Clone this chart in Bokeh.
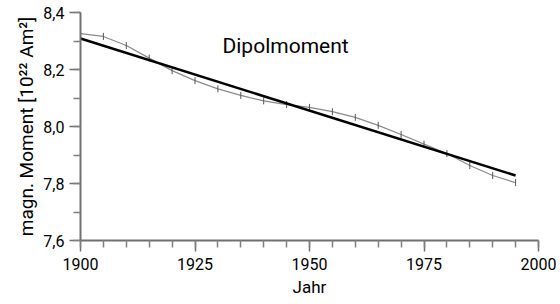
from bokeh.plotting import figure
from bokeh.models import Label, FixedTicker, CustomJSTickFormatter, Range1d
from bokeh.embed import file_html
from bokeh.resources import INLINE
import math

# data
years_obs = [1900, 1905, 1910, 1915, 1920, 1925, 1930, 1935, 1940, 1945, 1950,
             1955, 1960, 1965, 1970, 1975, 1980, 1985, 1990, 1995]
moment_obs = [8.326, 8.316, 8.284, 8.240, 8.196, 8.161, 8.132, 8.109, 8.090, 8.077, 8.067,
              8.052, 8.032, 8.004, 7.972, 7.938, 7.905, 7.863, 7.828, 7.803]
years_fit = [1900, 1995]
moment_fit = [8.309, 7.828]
x_ticks = [1900, 1925, 1950, 1975, 2000]
y_ticks = [7.6, 7.8, 8.0, 8.2, 8.4]
title_text = "Dipolmoment"
x_label = "Jahr"
y_label = "magn. Moment [10²² Am²]"

FONT = "Roboto"

p = figure(width=560, height=304, output_backend="svg", toolbar_location=None,
           x_range=Range1d(1900, 2000), y_range=Range1d(7.6, 8.4),
           min_border_left=80, min_border_right=22, min_border_top=12, min_border_bottom=64)
p.outline_line_color = None
p.grid.visible = False
p.background_fill_color = "white"
p.border_fill_color = "white"

p.line(years_obs, moment_obs, line_color="#8a8a8a", line_width=1.2)
p.scatter(years_obs, moment_obs, marker="dash", angle=math.pi / 2, size=7,
          line_color="#555555", line_width=1)
p.line(years_fit, moment_fit, line_color="black", line_width=2.5)

for ax in (p.xaxis[0], p.yaxis[0]):
    ax.axis_line_color = "#707070"
    ax.axis_line_width = 2
    ax.major_tick_line_color = "#707070"
    ax.minor_tick_line_color = "#808080"
    ax.major_tick_line_width = 1.5
    ax.minor_tick_line_width = 1.5
    ax.major_tick_in = 0
    ax.minor_tick_in = 0
    ax.major_label_text_font = FONT
    ax.major_label_text_font_size = "16px"
    ax.major_label_text_color = "#000000"
    ax.axis_label_text_font = FONT
    ax.axis_label_text_font_size = "17px"
    ax.axis_label_text_font_style = "normal"
    ax.axis_label_text_color = "#000000"

p.yaxis[0].axis_label_text_font_size = "19px"
p.xaxis[0].ticker = FixedTicker(ticks=x_ticks, minor_ticks=list(range(1900, 2001, 5)))
p.yaxis[0].ticker = FixedTicker(ticks=y_ticks, minor_ticks=[round(7.6 + 0.1 * i, 1) for i in range(9)])
p.xaxis[0].major_tick_out = 11
p.xaxis[0].minor_tick_out = 7
p.yaxis[0].major_tick_out = 11
p.yaxis[0].minor_tick_out = 7
p.xaxis[0].major_label_standoff = 6
p.yaxis[0].major_label_standoff = 5
p.yaxis[0].formatter = CustomJSTickFormatter(code="return tick.toFixed(1).replace('.', ',');")
p.xaxis[0].axis_label = x_label
p.yaxis[0].axis_label = y_label
p.xaxis[0].axis_label_standoff = 4
p.yaxis[0].axis_label_standoff = 2

p.add_layout(Label(x=1931, y=8.284, text=title_text, text_font=FONT,
                   text_font_size="21px", text_baseline="middle", text_color="#000000"))

open("out.html", "w").write(file_html(p, INLINE))
